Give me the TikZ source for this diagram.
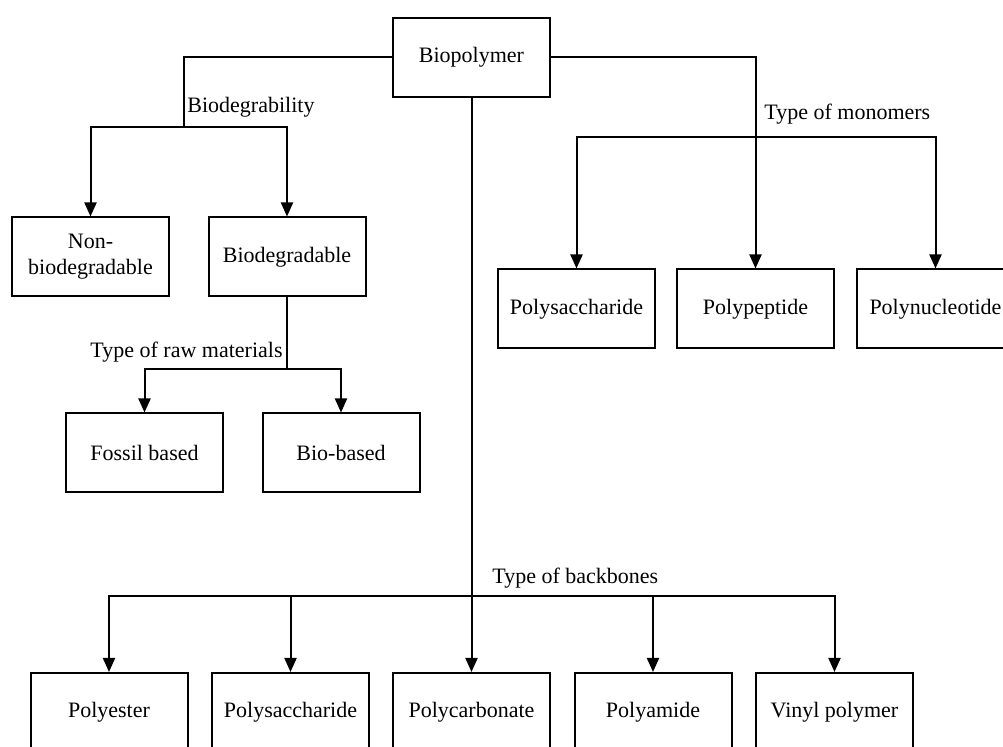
\documentclass[tikz,border=0pt]{standalone}
\usepackage{fontspec}
\setmainfont{Liberation Serif}
\usetikzlibrary{arrows.meta,positioning}

\begin{document}
\begin{tikzpicture}[x=0.5pt,y=-0.5pt,line cap=round,line join=miter,
  box/.style={draw,line width=1pt,minimum width=78.5pt,minimum height=39.5pt,
    inner sep=1pt,align=center,font=\fontsize{11}{13}\selectfont},
  tag/.style={font=\fontsize{11}{12.5}\selectfont,inner sep=0pt},
  wire/.style={line width=1pt},
  feed/.style={line width=1pt,-{Triangle[length=7pt,width=6pt]}}]
  \useasboundingbox (0,0) rectangle (1003,747);
  % Root.
  \node[box] (bio) at (471.5,57.5) {Biopolymer};
  % Biodegradability branch.
  \node[box] (nonbio) at (90.5,257) {Non-\\biodegradable};
  \node[box] (biodeg) at (287,257) {Biodegradable};
  \node[box] (fossil) at (144.5,453) {Fossil based};
  \node[box] (biobased) at (341,453) {Bio-based};
  % Monomer branch.
  \node[box] (sacA) at (576.5,309) {Polysaccharide};
  \node[box] (pept) at (755.5,309) {Polypeptide};
  \node[box] (nucl) at (935.5,309) {Polynucleotide};
  % Backbone branch.
  \node[box] (ester) at (109,712.5) {Polyester};
  \node[box] (sacB) at (290.5,712.5) {Polysaccharide};
  \node[box] (carb) at (471.5,712.5) {Polycarbonate};
  \node[box] (amide) at (653,712.5) {Polyamide};
  \node[box] (vinyl) at (834.5,712.5) {Vinyl polymer};

  \coordinate (jdeg) at (184,127);
  \coordinate (jmono) at (755.5,137);
  \coordinate (jraw) at (287,369);
  \coordinate (jback) at (471.5,596);

  \draw[wire] (bio.west) -| (jdeg);
  \draw[feed] (jdeg) -| (nonbio.north);
  \draw[feed] (jdeg) -| (biodeg.north);
  \draw[wire] (biodeg.south) -- (jraw);
  \draw[feed] (jraw) -| (fossil.north);
  \draw[feed] (jraw) -| (biobased.north);

  \draw[feed] (bio.east) -| (pept.north);
  \draw[feed] (jmono) -| (sacA.north);
  \draw[feed] (jmono) -| (nucl.north);

  \draw[feed] (bio.south) -- (carb.north);
  \foreach \n in {ester,sacB,amide,vinyl}
    \draw[feed] (jback) -| (\n.north);

  % Branch labels.
  \node[tag,anchor=west] (ldeg) at (187,107) {Biodegrability};
  \node[tag,anchor=west] (lmono) at (764,114) {Type of monomers};
  \node[tag,anchor=east] (lraw) at (283,352) {Type of raw materials};
  \node[tag,anchor=west] (lback) at (492,578) {Type of backbones};
\end{tikzpicture}
\end{document}
